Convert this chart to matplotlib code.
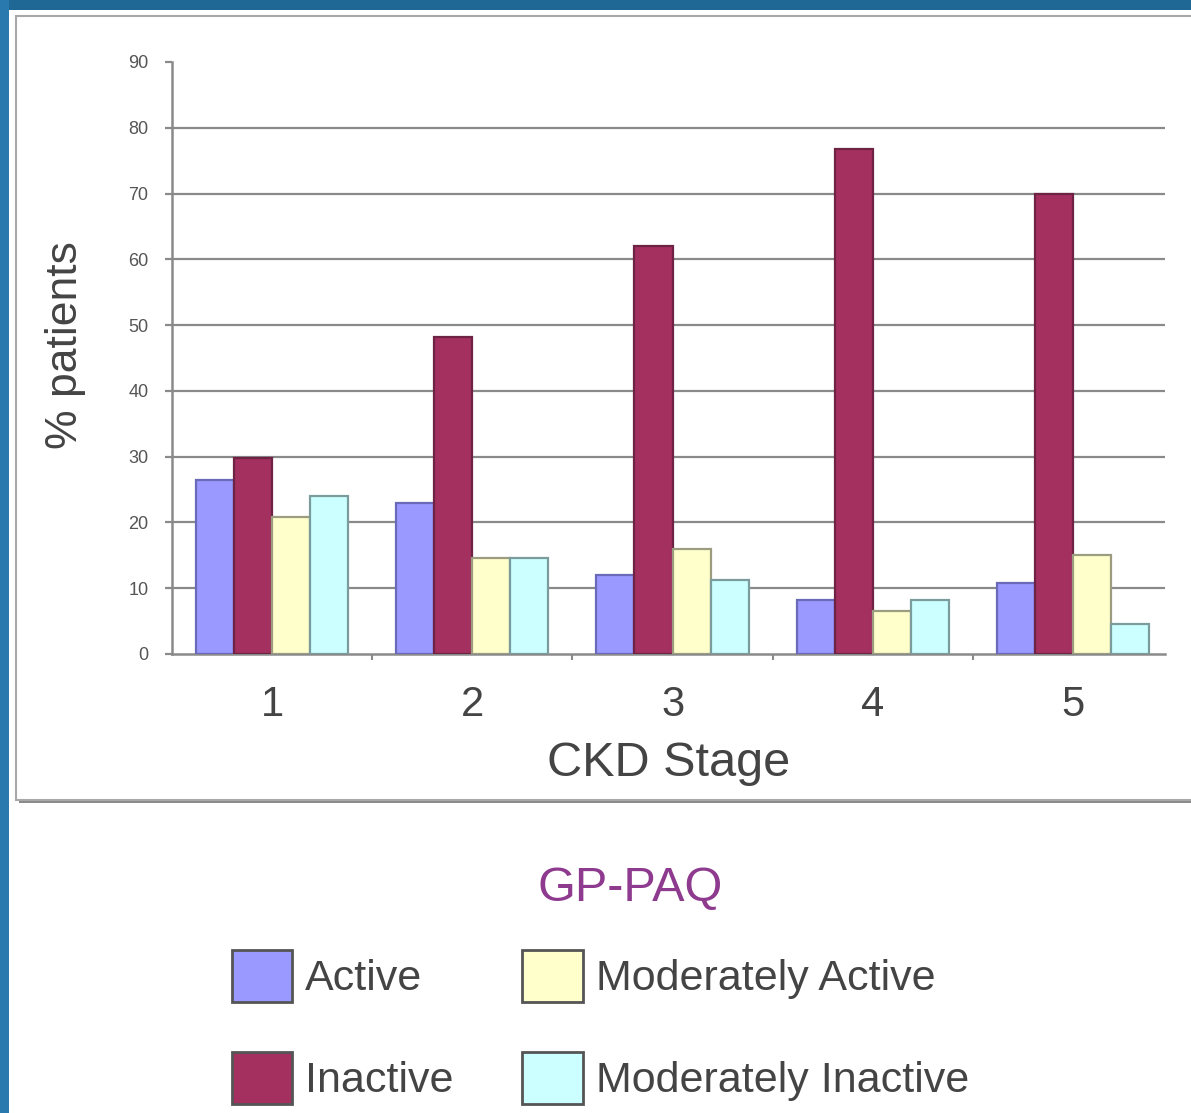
import matplotlib
matplotlib.use('Agg')
import matplotlib.pyplot as plt
from matplotlib.patches import Rectangle
import numpy as np

plt.rcParams['font.family'] = ['Liberation Sans', 'DejaVu Sans']

# % of patients per activity level, CKD stages 1-5
stages = ['1', '2', '3', '4', '5']
active = [26.5, 23.0, 12.0, 8.2, 10.8]
inactive = [29.8, 48.2, 62.0, 76.7, 70.0]
mod_active = [20.8, 14.6, 16.0, 6.5, 15.0]
mod_inactive = [24.0, 14.6, 11.2, 8.2, 4.5]
yticks = [0, 10, 20, 30, 40, 50, 60, 70, 80, 90]

series = [('Active', active, '#9999ff', '#6a6ab8'),
          ('Inactive', inactive, '#a3305f', '#6e2244'),
          ('Moderately Active', mod_active, '#ffffcc', '#9c9c80'),
          ('Moderately Inactive', mod_inactive, '#ccffff', '#7a9c9c')]

W, H = 1191, 1113
fig = plt.figure(figsize=(W / 100, H / 100), dpi=100, facecolor='white')

# slide frame: blue strips top and left, white chart panel with a shadow
fig.add_artist(Rectangle((0, 1 - 10 / H), 1, 10 / H, transform=fig.transFigure,
                         facecolor='#1f6896', edgecolor='none', zorder=-3))
fig.add_artist(Rectangle((0, 0), 9 / W, 1, transform=fig.transFigure,
                         facecolor='#2a79ae', edgecolor='none', zorder=-3))
fig.add_artist(Rectangle((19 / W, (H - 803) / H), 1, (803 - 19) / H,
                         transform=fig.transFigure, facecolor='#8a8a8a',
                         edgecolor='none', zorder=-2))
fig.add_artist(Rectangle((16 / W, (H - 800) / H), 1, (800 - 16) / H,
                         transform=fig.transFigure, facecolor='white',
                         edgecolor='#a8a8a8', linewidth=1.5, zorder=-1))

ax = fig.add_axes([172 / W, (H - 654) / H, (1165 - 172) / W, (654 - 62) / H])
ax.set_facecolor('none')

x = np.arange(len(stages))
w = 0.19
handles = []
for i, (name, vals, fc, ec) in enumerate(series):
    b = ax.bar(x + (i - 1.5) * w, vals, w, color=fc, edgecolor=ec,
               linewidth=1.6, label=name, zorder=3)
    handles.append(b)

ax.set_xlim(-0.5, 4.46)
ax.set_ylim(0, 90)
ax.hlines(yticks[1:-1], -0.5, 4.46, color='#8a8a8a', linewidth=1.6, zorder=1)

for s in ['top', 'right']:
    ax.spines[s].set_visible(False)
for s in ['left', 'bottom']:
    ax.spines[s].set_color('#8a8a8a')
    ax.spines[s].set_linewidth(1.8)

ax.set_yticks(yticks)
ax.set_yticklabels([str(v) for v in yticks])
ax.tick_params(axis='y', length=5, width=1.6, color='#8a8a8a', pad=12,
               labelsize=13, labelcolor='#555555')
ax.set_xticks(x)
ax.set_xticklabels(stages)
ax.tick_params(axis='x', length=0, pad=22, labelsize=30, labelcolor='#444444')
ax.set_xticks(x[:-1] + 0.5, minor=True)
ax.tick_params(axis='x', which='minor', length=4, width=1.5, color='#8a8a8a')

ax.set_ylabel('% patients', fontsize=32, color='#444444')
ax.yaxis.set_label_coords((86 - 172) / 993, (654 - 345) / 592)
ax.set_xlabel('CKD Stage', fontsize=35, color='#444444', labelpad=12)

fig.text(630 / W, (H - 888) / H, 'GP-PAQ', fontsize=35, color='#8e3a8e',
         ha='center', va='center')

leg = fig.legend(handles=handles, loc='upper left',
                 bbox_to_anchor=(193 / W, (H - 911) / H), ncol=2,
                 frameon=False, fontsize=31,
                 handlelength=1.4, handleheight=1.5, handletextpad=0.3,
                 columnspacing=1.6, labelspacing=1.15)
for t in leg.get_texts():
    t.set_color('#444444')
for p in leg.get_patches():
    p.set_edgecolor('#555555')
    p.set_linewidth(2)

fig.savefig('out.png', dpi=100, facecolor='white')
